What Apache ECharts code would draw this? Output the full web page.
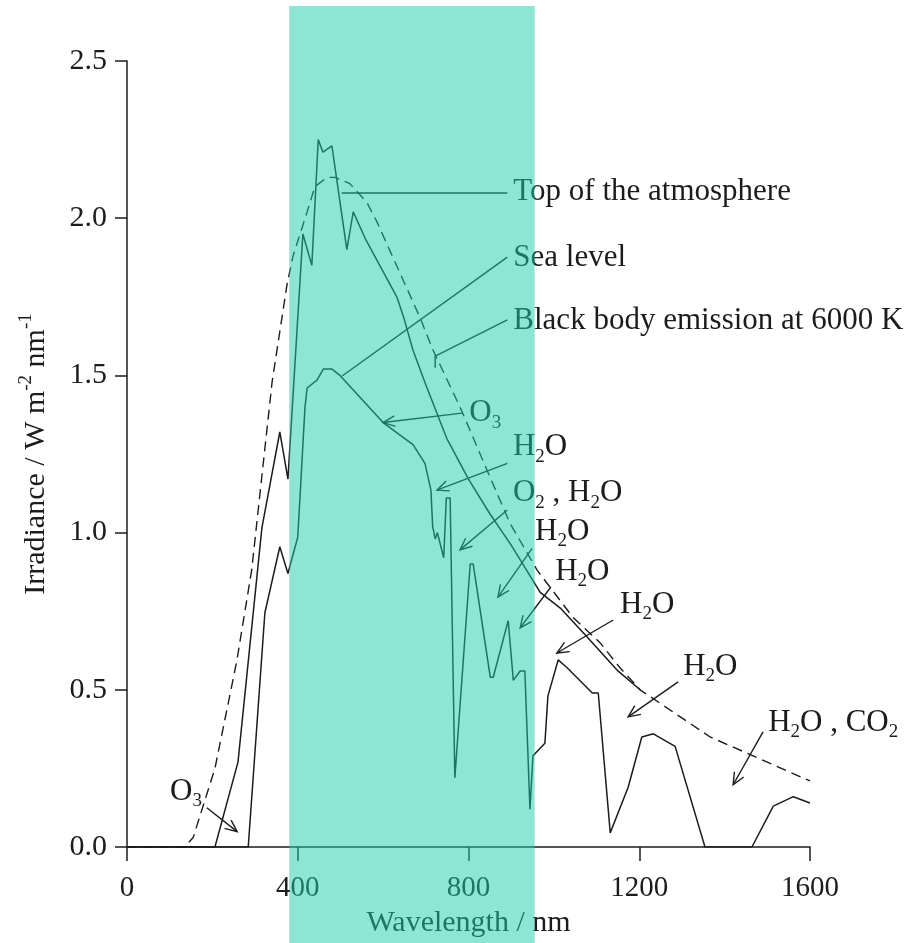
<!DOCTYPE html>
<html><head><meta charset="utf-8">
<script src="https://cdn.jsdelivr.net/npm/echarts@6/dist/echarts.min.js"></script>
<style>html,body{margin:0;padding:0;background:#fff}#c{width:908px;height:943px}</style>
</head><body><div id="c"></div>
<script>
// ---- data (wavelength nm, irradiance W m-2 nm-1) ----
const toaWl  = [0, 206, 260, 316, 358, 377, 412, 433, 448, 459, 480, 515, 530, 560, 600, 632, 647, 670, 700, 749, 800, 850, 900, 968, 1015, 1078, 1150, 1202];
const toaVal = [0, 0, 0.27, 1.015, 1.32, 1.17, 1.95, 1.85, 2.25, 2.21, 2.23, 1.90, 2.02, 1.93, 1.83, 1.75, 1.69, 1.58, 1.47, 1.30, 1.17, 1.06, 0.96, 0.81, 0.76, 0.668, 0.56, 0.50];

const seaWl  = [0, 284, 323, 358, 377, 400, 417, 422, 445, 460, 480, 499, 600, 670, 698, 712, 716, 722, 727, 742, 748, 757, 768, 804, 811, 851, 858, 893, 905, 921, 932, 944, 951, 979, 986, 1010, 1031, 1090, 1104, 1132, 1174, 1206, 1233, 1284, 1354, 1464, 1514, 1561, 1600];
const seaVal = [0, 0, 0.745, 0.955, 0.87, 0.985, 1.40, 1.46, 1.485, 1.52, 1.52, 1.50, 1.35, 1.28, 1.22, 1.135, 1.02, 0.98, 1.00, 0.92, 1.11, 1.11, 0.22, 0.90, 0.90, 0.54, 0.54, 0.72, 0.53, 0.56, 0.56, 0.12, 0.29, 0.33, 0.48, 0.595, 0.57, 0.49, 0.49, 0.045, 0.19, 0.35, 0.36, 0.32, 0, 0, 0.13, 0.16, 0.14];

const bbWl  = [0, 135, 155, 206, 257, 292, 316, 340, 375, 389, 422, 440, 469, 487, 522, 562, 585, 686, 717, 780, 843, 897, 961, 1045, 1108, 1155, 1202, 1366, 1483, 1600];
const bbVal = [0, 0, 0.03, 0.25, 0.59, 0.88, 1.18, 1.48, 1.79, 1.88, 2.02, 2.10, 2.13, 2.13, 2.11, 2.05, 1.99, 1.685, 1.58, 1.40, 1.20, 1.03, 0.88, 0.73, 0.65, 0.57, 0.50, 0.35, 0.28, 0.21];

const xTicks = [0, 400, 800, 1200, 1600];
const yTicks = [0, 0.5, 1.0, 1.5, 2.0, 2.5];
const visibleBand = [380, 955];           // nm, shaded region
const bandExtent = [-0.31, 2.675];        // irradiance units, vertical extent of shading

// annotations in data units: label anchor (left-middle), leader path, arrow at end?
const annotations = [
  { text: 'Top of the atmosphere', at: [905, 2.083], path: [[503, 2.08], [891, 2.08]], arrow: false },
  { text: 'Sea level', at: [905, 1.873], path: [[504, 1.498], [891, 1.876]], arrow: false },
  { text: 'Black body emission at 6000 K', at: [905, 1.672], path: [[891, 1.677], [722, 1.561], [722, 1.524]], arrow: false },
  { text: 'O{s|3}', at: [802, 1.38], path: [[785, 1.38], [600, 1.35]], arrow: true },
  { text: 'H{s|2}O', at: [904, 1.272], path: [[891, 1.22], [726, 1.135]], arrow: true },
  { text: 'O{s|2} , H{s|2}O', at: [904, 1.125], path: [[891, 1.072], [780, 0.945]], arrow: true },
  { text: 'H{s|2}O', at: [956, 1.003], path: [[949, 0.95], [869, 0.795]], arrow: true },
  { text: 'H{s|2}O', at: [1003, 0.876], path: [[993, 0.827], [921, 0.697]], arrow: true },
  { text: 'H{s|2}O', at: [1155, 0.77], path: [[1139, 0.722], [1007, 0.617]], arrow: true },
  { text: 'H{s|2}O', at: [1303, 0.573], path: [[1291, 0.525], [1174, 0.414]], arrow: true },
  { text: 'H{s|2}O , CO{s|2}', at: [1502, 0.396], path: [[1490, 0.366], [1420, 0.198]], arrow: true },
  { text: 'O{s|3}', at: [101, 0.176], path: [[187, 0.125], [258, 0.049]], arrow: true }
];

const zip = (a, b) => a.map((v, i) => [v, b[i]]);
const FONT = 'Liberation Serif';
const INK = '#1c1c1c';

const chart = echarts.init(document.getElementById('c'), null, { renderer: 'canvas' });
chart.setOption({
  animation: false,
  backgroundColor: '#ffffff',
  grid: { left: 127, right: 98, top: 61, bottom: 96, containLabel: false },
  xAxis: {
    type: 'value', min: xTicks[0], max: xTicks[xTicks.length - 1], interval: 400,
    name: 'Wavelength / nm', nameLocation: 'middle', nameGap: 61,
    nameTextStyle: { fontFamily: FONT, fontSize: 30, color: INK },
    axisLine: { lineStyle: { color: INK, width: 1.5 } },
    axisTick: { length: 14, lineStyle: { color: INK, width: 1.5 } },
    axisLabel: { fontFamily: FONT, fontSize: 29, color: INK, margin: 27, formatter: v => String(v) },
    splitLine: { show: false }
  },
  yAxis: {
    type: 'value', min: yTicks[0], max: yTicks[yTicks.length - 1], interval: 0.5,
    name: 'Irradiance / W m{p|-2} nm{p|-1}', nameLocation: 'middle', nameGap: 72, nameRotate: 90,
    nameTextStyle: { fontFamily: FONT, fontSize: 30, color: INK, lineHeight: 38,
      rich: { p: { fontFamily: FONT, fontSize: 19, lineHeight: 20, verticalAlign: 'top', color: INK } } },
    axisLine: { show: true, lineStyle: { color: INK, width: 1.5 } },
    axisTick: { show: true, length: 12, lineStyle: { color: INK, width: 1.5 } },
    axisLabel: { fontFamily: FONT, fontSize: 30, color: INK, margin: 20, formatter: v => v.toFixed(1) },
    splitLine: { show: false }
  },
  series: [
    { name: 'Black body emission at 6000 K', type: 'line', data: zip(bbWl, bbVal), symbol: 'none',
      lineStyle: { color: INK, width: 1.4, type: [10, 6] }, z: 3 },
    { name: 'Top of the atmosphere', type: 'line', data: zip(toaWl, toaVal), symbol: 'none',
      lineStyle: { color: INK, width: 1.5 }, z: 4 },
    { name: 'Sea level', type: 'line', data: zip(seaWl, seaVal), symbol: 'none',
      lineStyle: { color: INK, width: 1.5 }, z: 4 }
  ]
});

function px(p) { return chart.convertToPixel({ xAxisIndex: 0, yAxisIndex: 0 }, p); }

const elements = [];
annotations.forEach(a => {
  const pts = a.path.map(px);
  elements.push({ type: 'polyline', z: 50, shape: { points: pts },
    style: { stroke: INK, lineWidth: 1.4, fill: null } });
  if (a.arrow) {
    const [x1, y1] = pts[pts.length - 2], [x2, y2] = pts[pts.length - 1];
    const ang = Math.atan2(y2 - y1, x2 - x1), L = 13, w = 0.42;
    const h1 = [x2 - L * Math.cos(ang - w), y2 - L * Math.sin(ang - w)];
    const h2 = [x2 - L * Math.cos(ang + w), y2 - L * Math.sin(ang + w)];
    elements.push({ type: 'polyline', z: 50, shape: { points: [h1, [x2, y2], h2] },
      style: { stroke: INK, lineWidth: 1.4, fill: null } });
  }
  const t = px(a.at);
  elements.push({ type: 'text', z: 50, x: t[0], y: t[1],
    style: { text: a.text, fontFamily: FONT, fontSize: 31, fill: INK, lineHeight: 38,
      align: 'left', verticalAlign: 'middle',
      rich: { s: { fontFamily: FONT, fontSize: 19, lineHeight: 20, verticalAlign: 'bottom', fill: INK } } } });
});

const b0 = px([visibleBand[0], bandExtent[1]]), b1 = px([visibleBand[1], bandExtent[0]]);
elements.push({ type: 'rect', z: 100, silent: true,
  shape: { x: b0[0], y: b0[1], width: b1[0] - b0[0], height: b1[1] - b0[1] },
  style: { fill: 'rgba(28,206,168,0.5)' } });

chart.setOption({ graphic: { elements } });
</script>
</body></html>
